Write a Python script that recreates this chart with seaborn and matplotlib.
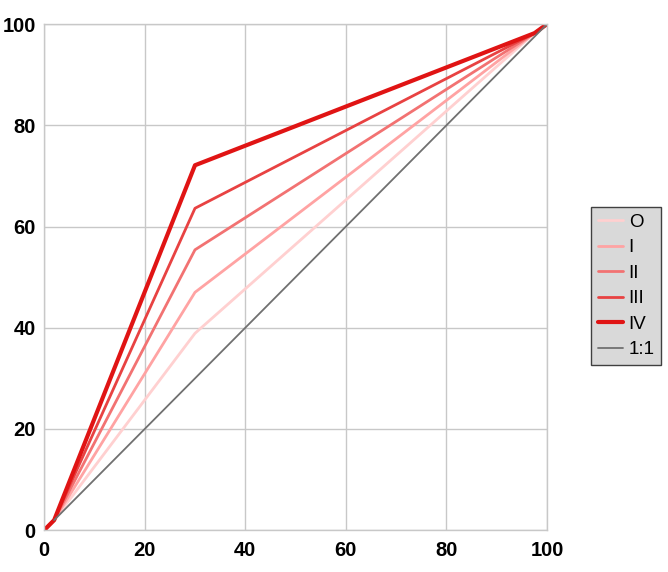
import pandas as pd
import matplotlib
matplotlib.use('Agg')
import matplotlib.pyplot as plt
import seaborn as sns

# Data
x_points = [0, 2, 30, 97.5, 100]
series_names = ['O', 'I', 'II', 'III', 'IV']
y_at_30 = {'O': 38.9, 'I': 47.0, 'II': 55.4, 'III': 63.6, 'IV': 72.1}
y_start = [0, 2]
y_end = [98.2, 100]
diag_x = [2, 100]
diag_y = [2, 100]

colors = ['#ffd0d0', '#ffa3a3', '#f27272', '#e84242', '#e01414']
widths = [2, 2, 2, 2, 3]

rows = []
for name in series_names:
    ys = y_start + [y_at_30[name]] + y_end
    for xv, yv in zip(x_points, ys):
        rows.append({'x': xv, 'y': yv, 'series': name})
df = pd.DataFrame(rows)
diag = pd.DataFrame({'x': diag_x, 'y': diag_y})

sns.set_style('white')
plt.rcParams['font.family'] = ['Liberation Sans', 'DejaVu Sans']
plt.rcParams['text.color'] = 'black'

fig = plt.figure(figsize=(6.68, 5.72), dpi=100)
ax = fig.add_axes([0.066, 0.073, 0.753, 0.885])

for name, c, w in zip(series_names, colors, widths):
    sns.lineplot(data=df[df['series'] == name], x='x', y='y', color=c,
                 linewidth=w, label=name, ax=ax, sort=False)
sns.lineplot(data=diag, x='x', y='y', color='#707070', linewidth=1.3,
             label='1:1', ax=ax)

ax.set_xlim(0, 100)
ax.set_ylim(0, 100)
ax.set_xticks([0, 20, 40, 60, 80, 100])
ax.set_yticks([0, 20, 40, 60, 80, 100])
ax.set_xlabel('')
ax.set_ylabel('')
ax.grid(True, color='#c8c8c8', linewidth=1)
ax.set_axisbelow(True)
for s in ax.spines.values():
    s.set_color('#c8c8c8')
    s.set_linewidth(1)
ax.tick_params(axis='x', length=0, labelsize=14.5, pad=8, labelcolor='black')
ax.tick_params(axis='y', length=0, labelsize=14.5, pad=6, labelcolor='black')
for lab in ax.get_xticklabels() + ax.get_yticklabels():
    lab.set_fontweight('bold')

leg = ax.legend(loc='center left', bbox_to_anchor=(0.885, 0.5),
                bbox_transform=fig.transFigure, frameon=True, fancybox=False,
                fontsize=13.5, handlelength=1.35, handletextpad=0.3,
                borderpad=0.35, labelspacing=0.45, borderaxespad=0,
                labelcolor='black')
leg.get_frame().set_facecolor('#d9d9d9')
leg.get_frame().set_edgecolor('#404040')
leg.get_frame().set_alpha(1)

fig.savefig('out.png', dpi=100)
